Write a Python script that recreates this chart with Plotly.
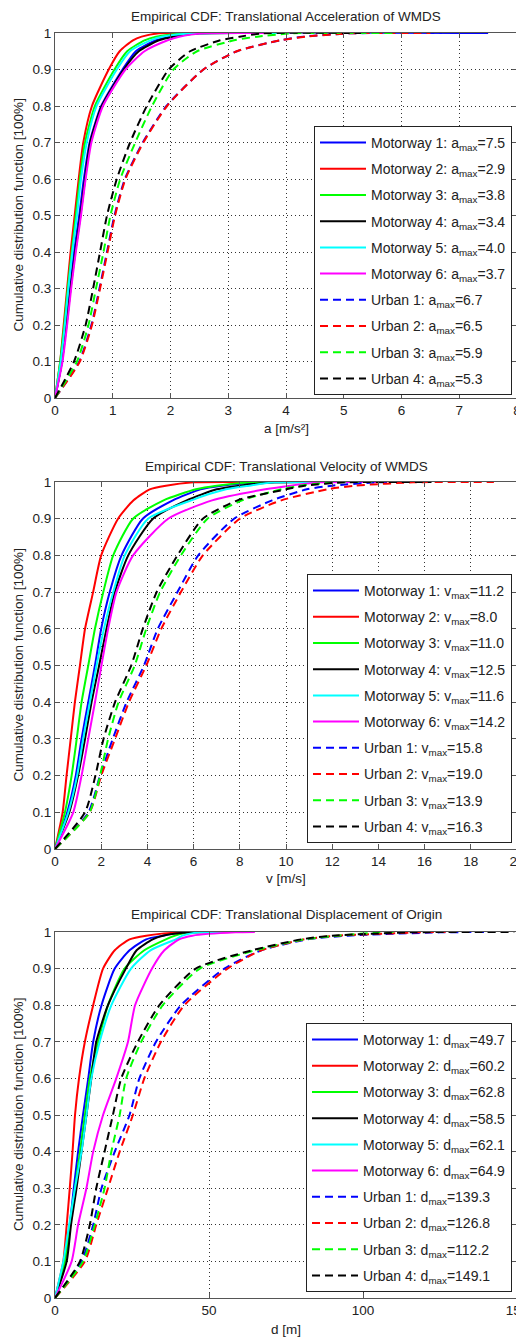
import plotly.graph_objects as go

# ---------------- data ----------------
levels = [0.0, 0.1, 0.2, 0.3, 0.4, 0.5, 0.6, 0.7, 0.8, 0.9, 0.95, 0.98, 0.99, 0.999, 1.0]

series_names = ["Motorway 1", "Motorway 2", "Motorway 3", "Motorway 4", "Motorway 5",
                "Motorway 6", "Urban 1", "Urban 2", "Urban 3", "Urban 4"]
series_colors = ["#0000ff", "#ff0000", "#00ff00", "#000000", "#00ffff",
                 "#ff00ff", "#0000ff", "#ff0000", "#00ff00", "#000000"]
series_dash = ["solid"] * 6 + ["8px,5px"] * 4

# translational acceleration [m/s^2] at each CDF level
acc_quantiles = [
    [0, 0.12, 0.19, 0.26, 0.33, 0.42, 0.50, 0.60, 0.80, 1.17, 1.40, 1.75, 2.00, 2.50, 7.5],
    [0, 0.09, 0.15, 0.21, 0.27, 0.34, 0.41, 0.49, 0.64, 0.93, 1.12, 1.35, 1.50, 1.80, 2.9],
    [0, 0.09, 0.16, 0.22, 0.29, 0.36, 0.43, 0.52, 0.69, 1.03, 1.25, 1.55, 1.75, 2.30, 3.8],
    [0, 0.12, 0.20, 0.27, 0.35, 0.44, 0.52, 0.61, 0.81, 1.19, 1.45, 1.80, 2.05, 2.50, 3.4],
    [0, 0.10, 0.17, 0.23, 0.30, 0.38, 0.45, 0.55, 0.72, 1.07, 1.30, 1.65, 1.85, 2.40, 4.0],
    [0, 0.13, 0.21, 0.28, 0.36, 0.45, 0.53, 0.63, 0.83, 1.22, 1.55, 1.95, 2.15, 2.60, 3.7],
    [0, 0.42, 0.63, 0.77, 0.90, 1.03, 1.21, 1.52, 1.93, 2.57, 3.15, 3.90, 4.30, 5.10, 6.7],
    [0, 0.43, 0.64, 0.78, 0.91, 1.04, 1.22, 1.53, 1.94, 2.57, 3.15, 3.90, 4.35, 5.10, 6.5],
    [0, 0.38, 0.58, 0.71, 0.84, 0.96, 1.13, 1.39, 1.68, 2.05, 2.46, 3.10, 3.50, 4.10, 5.9],
    [0, 0.33, 0.53, 0.66, 0.78, 0.90, 1.07, 1.30, 1.59, 1.97, 2.34, 2.86, 3.20, 3.60, 5.3],
]

# translational velocity [m/s]
vel_quantiles = [
    [0, 0.53, 0.90, 1.15, 1.44, 1.73, 2.00, 2.37, 2.88, 3.80, 5.10, 6.30, 7.20, 9.00, 11.2],
    [0, 0.33, 0.50, 0.68, 0.86, 1.08, 1.30, 1.65, 2.00, 2.73, 3.40, 4.10, 4.80, 6.00, 8.0],
    [0, 0.43, 0.72, 0.94, 1.15, 1.44, 1.73, 2.09, 2.52, 3.38, 4.70, 6.10, 7.00, 8.50, 11.0],
    [0, 0.62, 1.00, 1.30, 1.58, 1.91, 2.23, 2.59, 3.17, 4.24, 5.70, 7.00, 8.00, 9.50, 12.5],
    [0, 0.58, 0.96, 1.22, 1.51, 1.80, 2.12, 2.52, 3.02, 4.03, 5.90, 7.40, 8.40, 9.50, 11.6],
    [0, 0.79, 1.15, 1.44, 1.73, 2.01, 2.30, 2.66, 3.38, 4.90, 6.80, 9.10, 10.2, 11.5, 14.2],
    [0, 1.45, 1.95, 2.50, 3.10, 3.85, 4.45, 5.30, 6.20, 7.75, 9.40, 10.9, 12.0, 14.0, 15.8],
    [0, 1.50, 2.00, 2.60, 3.20, 3.95, 4.60, 5.45, 6.40, 8.00, 9.80, 11.8, 13.0, 15.5, 19.0],
    [0, 1.50, 1.95, 2.30, 2.75, 3.45, 3.95, 4.55, 5.45, 6.60, 8.10, 9.80, 10.6, 12.0, 13.9],
    [0, 1.30, 1.75, 2.10, 2.60, 3.30, 3.80, 4.40, 5.30, 6.40, 7.90, 10.0, 10.8, 12.5, 16.3],
]

# translational displacement of origin [m]
disp_quantiles = [
    [0, 3.2, 4.8, 6.1, 7.5, 9.1, 10.8, 12.4, 15.1, 19.4, 24.2, 29.6, 35.0, 41.4, 49.7],
    [0, 2.7, 3.8, 4.8, 5.7, 6.5, 7.8, 9.7, 12.4, 15.6, 19.4, 24.2, 29.6, 41.0, 60.2],
    [0, 3.2, 4.8, 6.5, 8.1, 9.7, 11.3, 14.0, 17.2, 22.6, 29.0, 36.0, 39.0, 43.5, 62.8],
    [0, 3.8, 5.2, 7.0, 8.6, 10.2, 11.8, 13.4, 17.2, 23.0, 26.5, 31.7, 35.0, 43.5, 58.5],
    [0, 2.7, 4.6, 6.5, 8.6, 10.2, 11.8, 14.5, 18.3, 24.7, 31.0, 39.2, 41.4, 46.8, 62.1],
    [0, 5.4, 7.5, 10.2, 12.4, 15.6, 19.9, 23.7, 26.0, 31.5, 35.5, 40.3, 44.6, 58.6, 64.9],
    [0, 8.6, 12.4, 15.1, 19.4, 24.2, 27.4, 32.8, 40.9, 55.0, 67.0, 82.0, 95.0, 125.0, 139.3],
    [0, 9.7, 13.4, 17.2, 21.0, 25.3, 29.0, 34.4, 42.0, 56.0, 67.0, 81.0, 92.0, 118.0, 126.8],
    [0, 9.1, 12.9, 16.1, 18.3, 21.0, 23.1, 28.0, 35.0, 47.0, 65.0, 81.0, 92.0, 105.0, 112.2],
    [0, 8.1, 11.3, 13.4, 16.1, 18.8, 21.5, 26.9, 33.9, 45.7, 64.0, 80.0, 90.0, 115.0, 149.1],
]

panel_titles = ["Empirical CDF: Translational Acceleration of WMDS",
                "Empirical CDF: Translational Velocity of WMDS",
                "Empirical CDF: Translational Displacement of Origin"]
panel_xlabels = ["a [m/s\u00b2]", "v [m/s]", "d [m]"]
panel_symbols = ["a", "v", "d"]
panel_xranges = [[0, 8], [0, 20], [0, 150]]
panel_xticks = [[0, 1, 2, 3, 4, 5, 6, 7, 8],
                [0, 2, 4, 6, 8, 10, 12, 14, 16, 18, 20],
                [0, 50, 100, 150]]
y_tickvals = [0, 0.1, 0.2, 0.3, 0.4, 0.5, 0.6, 0.7, 0.8, 0.9, 1.0]
y_ticktext = ["0", "0.1", "0.2", "0.3", "0.4", "0.5", "0.6", "0.7", "0.8", "0.9", "1"]
ylabel = "Cumulative distribution function [100%]"

panel_data = [acc_quantiles, vel_quantiles, disp_quantiles]

# ---------------- layout geometry (page pixels) ----------------
PAGE_W, PAGE_H = 524, 1337
OFF = 8                      # default body margin of the html page
W, H = PAGE_W - OFF, PAGE_H - OFF
plot_left, plot_right = 55, 517
panel_tops = [33, 482, 932]
panel_bottoms = [398, 849, 1298]
title_ys = [16, 466, 915]
xlabel_ys = [429, 878, 1329]
ylabel_x = 18
legend_right = [512, 512, 512]
legend_bottom = [395, 843, 1292]


def px(x):
    return (x - OFF) / W


def py(y):
    return 1 - (y - OFF) / H


FONT = "Arial, Liberation Sans, Helvetica, sans-serif"
FS = 13.5

fig = go.Figure()

for p in range(3):
    ax = "" if p == 0 else str(p + 1)
    lg = "legend" if p == 0 else "legend" + str(p + 1)
    for i, q in enumerate(panel_data[p]):
        label = "%s: %s<sub>max</sub>=%.1f" % (series_names[i], panel_symbols[p], q[-1])
        fig.add_trace(go.Scatter(
            x=q, y=levels, mode="lines", name=label,
            line=dict(color=series_colors[i], width=2, dash=series_dash[i],
                      shape="spline", smoothing=0.6),
            xaxis="x" + ax, yaxis="y" + ax, legend=lg, legendgroup="g%d_%d" % (p, i),
            hoverinfo="skip",
        ))

layout = dict(
    width=W, height=H,
    margin=dict(l=0, r=0, t=0, b=0, autoexpand=False),
    paper_bgcolor="white", plot_bgcolor="white",
    font=dict(family=FONT, size=FS, color="#222"),
    showlegend=True,
    annotations=[],
)

axis_common = dict(
    showline=True, linecolor="#555", linewidth=1, mirror="ticks",
    ticks="inside", ticklen=5, tickcolor="#555",
    showgrid=True, gridcolor="#333", griddash="1px,3px", gridwidth=1,
    zeroline=False, automargin=False, ticklabeloverflow="allow",
    tickfont=dict(size=FS, color="#222"),
)

for p in range(3):
    ax = "" if p == 0 else str(p + 1)
    layout["xaxis" + ax] = dict(
        axis_common, domain=[px(plot_left), px(plot_right)], anchor="y" + ax,
        range=panel_xranges[p], tickvals=panel_xticks[p],
    )
    layout["yaxis" + ax] = dict(
        axis_common, domain=[py(panel_bottoms[p]), py(panel_tops[p])], anchor="x" + ax,
        range=[0, 1], tickvals=y_tickvals, ticktext=y_ticktext,
    )
    lg = "legend" if p == 0 else "legend" + str(p + 1)
    layout[lg] = dict(
        x=px(legend_right[p]), y=py(legend_bottom[p]),
        xanchor="right", yanchor="bottom",
        bgcolor="white", bordercolor="#222", borderwidth=1,
        font=dict(family=FONT, size=14, color="#222"),
        traceorder="grouped", tracegroupgap=5, itemwidth=46,
    )
    layout["annotations"].append(dict(
        text=panel_titles[p], xref="paper", yref="paper",
        x=px((plot_left + plot_right) / 2), y=py(title_ys[p]),
        showarrow=False, xanchor="center", yanchor="middle",
        font=dict(family=FONT, size=FS, color="#222"),
    ))
    layout["annotations"].append(dict(
        text=panel_xlabels[p], xref="paper", yref="paper",
        x=px((plot_left + plot_right) / 2), y=py(xlabel_ys[p]),
        showarrow=False, xanchor="center", yanchor="middle",
        font=dict(family=FONT, size=FS, color="#222"),
    ))
    layout["annotations"].append(dict(
        text=ylabel, xref="paper", yref="paper", textangle=-90,
        x=px(ylabel_x), y=py((panel_tops[p] + panel_bottoms[p]) / 2),
        showarrow=False, xanchor="center", yanchor="middle",
        font=dict(family=FONT, size=FS, color="#222"),
    ))

fig.update_layout(layout)
fig.write_html("out.html")
